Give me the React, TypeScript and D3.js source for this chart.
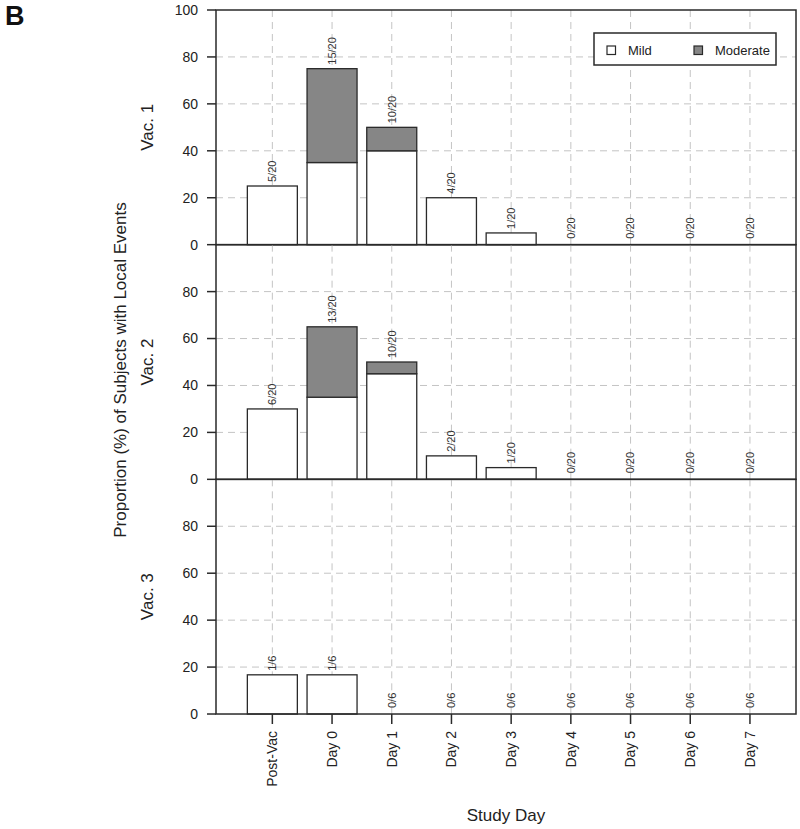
import React from "react";
import * as d3 from "d3";

const categories = ["Post-Vac", "Day 0", "Day 1", "Day 2", "Day 3", "Day 4", "Day 5", "Day 6", "Day 7"];
const panelNames = ["Vac. 1", "Vac. 2", "Vac. 3"];

const mildVac1 = [25, 35, 40, 20, 5, 0, 0, 0, 0];
const moderateVac1 = [0, 40, 10, 0, 0, 0, 0, 0, 0];
const countsVac1 = ["5/20", "15/20", "10/20", "4/20", "1/20", "0/20", "0/20", "0/20", "0/20"];

const mildVac2 = [30, 35, 45, 10, 5, 0, 0, 0, 0];
const moderateVac2 = [0, 30, 5, 0, 0, 0, 0, 0, 0];
const countsVac2 = ["6/20", "13/20", "10/20", "2/20", "1/20", "0/20", "0/20", "0/20", "0/20"];

const mildVac3 = [16.7, 16.7, 0, 0, 0, 0, 0, 0, 0];
const moderateVac3 = [0, 0, 0, 0, 0, 0, 0, 0, 0];
const countsVac3 = ["1/6", "1/6", "0/6", "0/6", "0/6", "0/6", "0/6", "0/6", "0/6"];

const yTicksTop = [0, 20, 40, 60, 80, 100];
const yTicksOther = [0, 20, 40, 60, 80];

const legendItems = ["Mild", "Moderate"];

const panels = [
  { name: panelNames[0], mild: mildVac1, moderate: moderateVac1, counts: countsVac1, ticks: yTicksTop },
  { name: panelNames[1], mild: mildVac2, moderate: moderateVac2, counts: countsVac2, ticks: yTicksOther },
  { name: panelNames[2], mild: mildVac3, moderate: moderateVac3, counts: countsVac3, ticks: yTicksOther },
];

const FONT = "'Liberation Sans', Arial, sans-serif";
const MOD_FILL = "#868686";
const LINE = "#2a2a2a";
const GRID = "#c4c4c4";

export default function App() {
  const W = 800;
  const H = 829;
  const left = 216;
  const right = 796;
  const top = 10;
  const panelH = 234.67;

  const x = d3
    .scaleBand<string>()
    .domain(categories)
    .range([242.5, 779.8])
    .paddingInner(0.1625)
    .paddingOuter(0.08125);
  const bw = x.bandwidth();
  const cx = (c: string) => (x(c) as number) + bw / 2;

  const bottomAll = top + panelH * 3;

  return (
    <svg width={W} height={H} style={{ position: "absolute", left: 0, top: 0 }} fontFamily={FONT}>
      <rect x={0} y={0} width={W} height={H} fill="white" />
      <text x={5} y={25} fontSize={27} fontWeight="bold" fill="#111">B</text>

      {panels.map((p, pi) => {
        const pTop = top + pi * panelH;
        const pBot = pTop + panelH;
        const y = d3.scaleLinear().domain([0, 100]).range([pBot, pTop]);
        const gridY = [20, 40, 60, 80];
        return (
          <g key={p.name}>
            {gridY.map((g) => (
              <line key={"gy" + g} x1={left} x2={right} y1={y(g)} y2={y(g)} stroke={GRID} strokeWidth={1} strokeDasharray="7,5" />
            ))}
            {categories.map((c) => (
              <line key={"gx" + c} x1={cx(c)} x2={cx(c)} y1={pTop} y2={pBot} stroke={GRID} strokeWidth={1} strokeDasharray="7,5" />
            ))}
            {categories.map((c, i) => {
              const m = p.mild[i];
              const mo = p.moderate[i];
              const bx = x(c) as number;
              return (
                <g key={"b" + c}>
                  {m > 0 && (
                    <rect x={bx} y={y(m)} width={bw} height={y(0) - y(m)} fill="white" stroke={LINE} strokeWidth={1.3} />
                  )}
                  {mo > 0 && (
                    <rect x={bx} y={y(m + mo)} width={bw} height={y(m) - y(m + mo)} fill={MOD_FILL} stroke={LINE} strokeWidth={1.3} />
                  )}
                </g>
              );
            })}
            {categories.map((c, i) => {
              const total = p.mild[i] + p.moderate[i];
              const ly = y(total) - (total > 0 ? 4 : 6);
              return (
                <text
                  key={"l" + c}
                  transform={`translate(${cx(c)},${ly}) rotate(-90)`}
                  dy="0.35em"
                  fontSize={11}
                  fill="#333"
                  textAnchor="start"
                >
                  {p.counts[i]}
                </text>
              );
            })}
            <rect x={left} y={pTop} width={right - left} height={pBot - pTop} fill="none" stroke={LINE} strokeWidth={1.5} />
            {p.ticks.map((t) => (
              <g key={"t" + t}>
                <line x1={left - 9} x2={left} y1={y(t)} y2={y(t)} stroke={LINE} strokeWidth={1.5} />
                <text x={198} y={y(t)} dy="0.35em" textAnchor="end" fontSize={14} fill="#222">
                  {t}
                </text>
              </g>
            ))}
            <text
              transform={`translate(147,${(pTop + pBot) / 2}) rotate(-90)`}
              dy="0.35em"
              textAnchor="middle"
              fontSize={17}
              fill="#222"
            >
              {p.name}
            </text>
          </g>
        );
      })}

      {categories.map((c) => (
        <g key={"xt" + c}>
          <line x1={cx(c)} x2={cx(c)} y1={bottomAll} y2={bottomAll + 10} stroke={LINE} strokeWidth={1.5} />
          <text
            transform={`translate(${cx(c)},${bottomAll + 17}) rotate(-90)`}
            dy="0.35em"
            textAnchor="end"
            fontSize={14}
            fill="#222"
          >
            {c}
          </text>
        </g>
      ))}

      <text x={(left + right) / 2} y={821} textAnchor="middle" fontSize={17} fill="#222">
        Study Day
      </text>
      <text
        transform={`translate(120,370) rotate(-90)`}
        dy="0.35em"
        textAnchor="middle"
        fontSize={17}
        fill="#222"
      >
        Proportion (%) of Subjects with Local Events
      </text>

      <g>
        <rect x={594} y={33} width={182} height={32} fill="white" stroke={LINE} strokeWidth={1.5} />
        {legendItems.map((l, i) => {
          const lx = i === 0 ? 607 : 694;
          return (
            <g key={l}>
              <rect x={lx} y={46} width={8.5} height={8.5} fill={i === 0 ? "white" : MOD_FILL} stroke={LINE} strokeWidth={1.2} />
              <text x={lx + 21} y={50} dy="0.35em" fontSize={13} fill="#222">
                {l}
              </text>
            </g>
          );
        })}
      </g>
    </svg>
  );
}
